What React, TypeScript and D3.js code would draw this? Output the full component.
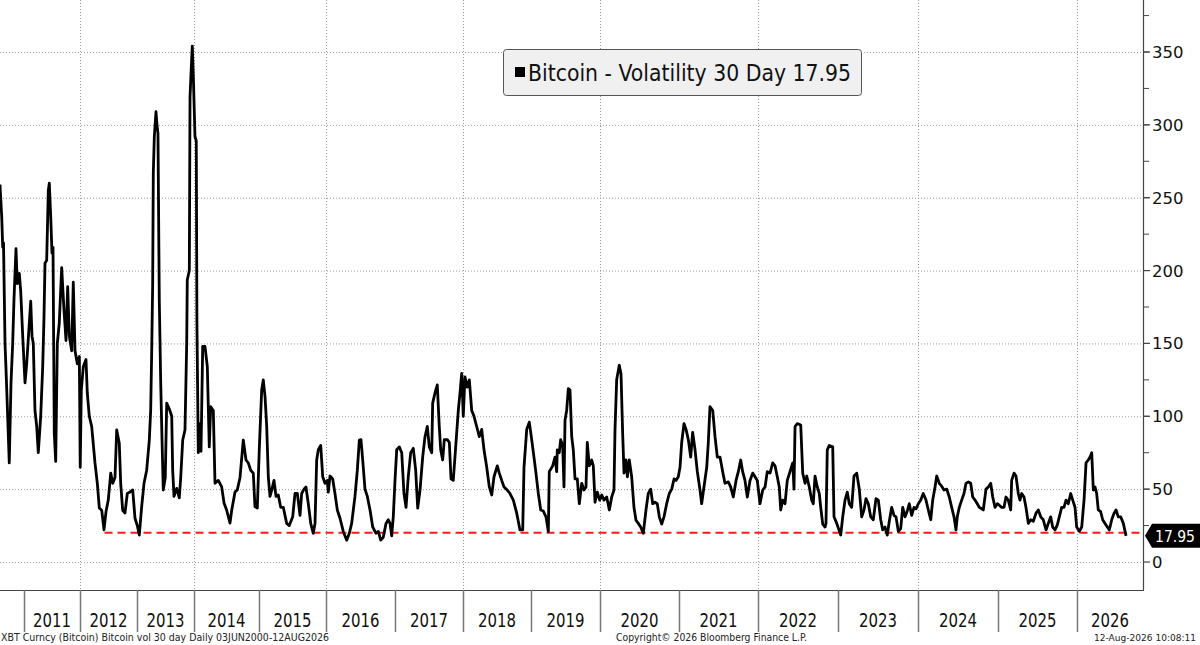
import * as d3 from "d3";

// year bands shown on the bottom axis
const years = [2011, 2012, 2013, 2014, 2015, 2016, 2017, 2018, 2019, 2020, 2021, 2022, 2023, 2024, 2025, 2026];
const yTicks = [0, 50, 100, 150, 200, 250, 300, 350];
const seriesName = "Bitcoin - Volatility 30 Day";
const lastValue = 17.95;
const floorLevel = 20;
const floorStart = 2012.43;
const footerLeft = "XBT Curncy (Bitcoin) Bitcoin vol 30 day Daily 03JUN2000-12AUG2026";
const footerMid = "Copyright\u00a9 2026 Bloomberg Finance L.P.";
const footerRight = "12-Aug-2026 10:08:11";

// [decimal year, 30 day volatility]
const bitcoinVol: [number, number][] = [
  [2010.571, 259], [2010.602, 237], [2010.62, 216], [2010.634, 219], [2010.661, 150], [2010.679, 132],
  [2010.702, 107], [2010.737, 68], [2010.768, 123], [2010.798, 150], [2010.821, 180], [2010.857, 215],
  [2010.88, 191], [2010.916, 198], [2010.941, 186], [2010.977, 155],
  [2011.018, 123], [2011.048, 136], [2011.095, 164], [2011.12, 179], [2011.143, 155], [2011.166, 150],
  [2011.196, 104], [2011.227, 93], [2011.255, 75], [2011.298, 100], [2011.334, 134], [2011.357, 168],
  [2011.375, 205], [2011.405, 207], [2011.434, 255], [2011.452, 260], [2011.477, 237], [2011.5, 212],
  [2011.518, 216], [2011.541, 88], [2011.566, 69], [2011.595, 150], [2011.63, 164], [2011.673, 202],
  [2011.714, 173], [2011.75, 152], [2011.78, 189], [2011.809, 155], [2011.852, 145], [2011.88, 192],
  [2011.911, 145], [2011.952, 136], [2011.988, 141],
  [2012.004, 65], [2012.023, 118], [2012.058, 134], [2012.105, 139], [2012.128, 116], [2012.163, 100],
  [2012.205, 93], [2012.263, 68], [2012.304, 54], [2012.339, 37], [2012.381, 35.5], [2012.421, 22],
  [2012.456, 34.5], [2012.496, 42.5], [2012.539, 61], [2012.574, 54], [2012.614, 58], [2012.644, 90.6],
  [2012.689, 81.5], [2012.714, 54], [2012.749, 35.5], [2012.789, 33.6], [2012.83, 47], [2012.877, 48],
  [2012.925, 49.5], [2012.965, 30],
  [2013.005, 25], [2013.04, 18.5], [2013.082, 38], [2013.123, 54], [2013.17, 63], [2013.216, 83.7],
  [2013.24, 104], [2013.258, 145], [2013.275, 191], [2013.286, 267], [2013.304, 292], [2013.333, 309],
  [2013.351, 300], [2013.368, 294], [2013.391, 180], [2013.416, 123], [2013.439, 83.7], [2013.461, 49.4],
  [2013.496, 58], [2013.521, 109], [2013.567, 105], [2013.609, 100], [2013.626, 63], [2013.649, 45],
  [2013.696, 50.5], [2013.742, 44], [2013.767, 58], [2013.802, 83.7], [2013.842, 90.6], [2013.872, 150],
  [2013.882, 193.5], [2013.918, 200], [2013.93, 319], [2013.953, 340], [2013.97, 354], [2013.991, 330],
  [2014.015, 292], [2014.035, 289], [2014.045, 164], [2014.066, 75], [2014.092, 95], [2014.108, 76],
  [2014.134, 148], [2014.169, 148], [2014.205, 134], [2014.235, 79], [2014.257, 106.6], [2014.297, 104],
  [2014.323, 54], [2014.374, 56], [2014.426, 51.5], [2014.462, 40.5], [2014.503, 35.5], [2014.554, 26.7],
  [2014.58, 35.5], [2014.631, 48], [2014.666, 49.5], [2014.708, 58], [2014.758, 83.7], [2014.8, 70],
  [2014.835, 68], [2014.872, 63], [2014.912, 61], [2014.938, 38], [2014.974, 37],
  [2015.004, 77], [2015.04, 118], [2015.064, 125], [2015.09, 113.5], [2015.115, 93], [2015.139, 58.5],
  [2015.164, 45], [2015.19, 49.4], [2015.224, 56], [2015.254, 45], [2015.288, 46], [2015.324, 37.5],
  [2015.363, 37.5], [2015.413, 26.5], [2015.452, 25], [2015.503, 31], [2015.537, 47], [2015.572, 47],
  [2015.612, 32], [2015.637, 47], [2015.672, 50], [2015.701, 51.5], [2015.736, 40], [2015.772, 26.5],
  [2015.81, 19.7], [2015.836, 26.5], [2015.861, 70], [2015.885, 77], [2015.921, 80], [2015.951, 58.5],
  [2015.985, 54],
  [2016.019, 56], [2016.033, 48], [2016.058, 59], [2016.097, 57], [2016.13, 47], [2016.164, 35.7],
  [2016.203, 30], [2016.251, 20.8], [2016.3, 15], [2016.338, 19.7], [2016.372, 26.5], [2016.42, 45],
  [2016.454, 63], [2016.483, 83.7], [2016.507, 84], [2016.532, 70], [2016.565, 50], [2016.599, 45],
  [2016.638, 35.7], [2016.677, 24], [2016.725, 19.7], [2016.758, 21], [2016.793, 15], [2016.83, 17],
  [2016.87, 26.5], [2016.903, 29], [2016.928, 26.5], [2016.952, 18], [2016.975, 31],
  [2017.0, 56], [2017.025, 77], [2017.063, 79], [2017.099, 75], [2017.132, 47], [2017.162, 37.5],
  [2017.196, 59], [2017.231, 75], [2017.269, 78], [2017.304, 63], [2017.334, 37], [2017.368, 49.4],
  [2017.407, 72], [2017.441, 86], [2017.475, 93], [2017.504, 79], [2017.54, 75], [2017.554, 109],
  [2017.588, 116], [2017.622, 121.5], [2017.651, 93], [2017.672, 77], [2017.701, 70], [2017.725, 84],
  [2017.769, 84], [2017.799, 82], [2017.824, 57], [2017.857, 56], [2017.897, 82], [2017.931, 104],
  [2017.956, 116], [2017.981, 129.5],
  [2018.004, 100], [2018.029, 127], [2018.063, 120], [2018.093, 125], [2018.128, 104], [2018.162, 100],
  [2018.201, 93], [2018.24, 86], [2018.275, 91], [2018.309, 77], [2018.349, 65], [2018.387, 51.5],
  [2018.422, 46], [2018.456, 58.5], [2018.504, 66], [2018.534, 61], [2018.569, 56], [2018.603, 51.5],
  [2018.651, 49.4], [2018.691, 47], [2018.74, 42.5], [2018.79, 33.5], [2018.838, 22], [2018.878, 22],
  [2018.897, 65], [2018.937, 91], [2018.975, 96],
  [2019.01, 84], [2019.043, 72], [2019.072, 61], [2019.106, 47], [2019.141, 35.7], [2019.178, 35],
  [2019.217, 31], [2019.251, 21], [2019.265, 62], [2019.314, 66], [2019.348, 72], [2019.372, 62],
  [2019.381, 77], [2019.41, 75], [2019.43, 84], [2019.459, 80], [2019.478, 51.5], [2019.493, 97.5],
  [2019.517, 104], [2019.541, 119], [2019.565, 118], [2019.59, 86], [2019.613, 77], [2019.638, 57],
  [2019.671, 57], [2019.7, 40], [2019.735, 54], [2019.768, 49.4], [2019.797, 51.5], [2019.816, 82],
  [2019.845, 66], [2019.88, 70], [2019.903, 66], [2019.928, 41], [2019.961, 48], [2019.996, 42.5],
  [2020.022, 46], [2020.051, 42.5], [2020.085, 44.6], [2020.118, 35.7], [2020.148, 44.6], [2020.177, 49.4],
  [2020.19, 91], [2020.211, 125], [2020.244, 135], [2020.266, 129], [2020.287, 88], [2020.304, 61],
  [2020.329, 70], [2020.346, 58.5], [2020.371, 70], [2020.401, 58.5], [2020.43, 37.5], [2020.456, 28.5],
  [2020.485, 26.5], [2020.515, 24], [2020.548, 19.7], [2020.582, 35.7], [2020.611, 47], [2020.642, 50],
  [2020.667, 40], [2020.696, 41], [2020.725, 40], [2020.751, 31], [2020.781, 26], [2020.81, 31],
  [2020.844, 40], [2020.877, 47], [2020.908, 50], [2020.937, 57], [2020.962, 56], [2020.991, 58.5],
  [2021.013, 65], [2021.034, 82], [2021.063, 95], [2021.089, 91], [2021.118, 84], [2021.148, 72],
  [2021.173, 89], [2021.203, 77], [2021.232, 62], [2021.266, 49.4], [2021.287, 40], [2021.316, 51.5],
  [2021.351, 65], [2021.371, 82], [2021.392, 106.6], [2021.427, 104], [2021.456, 86], [2021.485, 72],
  [2021.519, 72], [2021.553, 62], [2021.582, 54], [2021.624, 55], [2021.654, 51.5], [2021.687, 44.6],
  [2021.722, 56], [2021.751, 62], [2021.781, 70], [2021.806, 62], [2021.835, 56], [2021.865, 44.6],
  [2021.899, 56], [2021.933, 61], [2021.962, 58.5], [2021.991, 56],
  [2022.025, 40], [2022.059, 49.4], [2022.088, 51.5], [2022.116, 62], [2022.15, 61], [2022.184, 68],
  [2022.213, 66], [2022.241, 58.5], [2022.266, 51.5], [2022.284, 35.7], [2022.309, 42.5], [2022.338, 40],
  [2022.366, 56], [2022.4, 62], [2022.434, 68], [2022.45, 50], [2022.463, 93], [2022.491, 95],
  [2022.534, 94], [2022.559, 61], [2022.588, 54], [2022.609, 59], [2022.641, 51.5], [2022.671, 42.5],
  [2022.691, 40], [2022.713, 59], [2022.741, 51.5], [2022.766, 47], [2022.784, 37.5], [2022.809, 26],
  [2022.838, 24], [2022.85, 26.5], [2022.866, 77], [2022.891, 80], [2022.934, 79], [2022.95, 31],
  [2022.984, 26.5],
  [2023.034, 18.5], [2023.059, 31], [2023.088, 42.5], [2023.116, 48], [2023.141, 40], [2023.171, 37.5],
  [2023.2, 59], [2023.234, 61], [2023.266, 50], [2023.296, 31], [2023.325, 35.7], [2023.35, 43.5],
  [2023.379, 40], [2023.409, 31], [2023.441, 29], [2023.475, 43.5], [2023.504, 42.5], [2023.534, 29],
  [2023.559, 22], [2023.588, 24], [2023.616, 18.5], [2023.641, 28], [2023.671, 37.5], [2023.7, 32],
  [2023.725, 31], [2023.754, 21], [2023.784, 23], [2023.809, 37.5], [2023.838, 31], [2023.866, 35],
  [2023.891, 40], [2023.921, 32], [2023.95, 37.5], [2023.975, 36.5],
  [2024.004, 40], [2024.034, 42.5], [2024.066, 47], [2024.1, 42.5], [2024.129, 35.7], [2024.159, 29],
  [2024.184, 42.5], [2024.213, 51.5], [2024.234, 59], [2024.266, 54], [2024.296, 52], [2024.325, 49.4],
  [2024.359, 50], [2024.391, 44.6], [2024.421, 37.5], [2024.45, 31], [2024.475, 22], [2024.491, 31],
  [2024.516, 37.5], [2024.546, 42.5], [2024.575, 47], [2024.6, 54], [2024.629, 55], [2024.659, 54],
  [2024.684, 44.6], [2024.713, 42.5], [2024.741, 40], [2024.766, 37.5], [2024.796, 36.5], [2024.816, 35.7],
  [2024.85, 50], [2024.879, 51.5], [2024.909, 54], [2024.934, 44.6], [2024.963, 37.5], [2024.991, 40],
  [2025.016, 39], [2025.047, 37.5], [2025.076, 37.5], [2025.101, 44.6], [2025.13, 42.5], [2025.161, 35.7],
  [2025.173, 56], [2025.203, 61], [2025.228, 59], [2025.257, 47], [2025.278, 42.5], [2025.3, 47],
  [2025.329, 44.6], [2025.354, 37.5], [2025.384, 26.5], [2025.414, 29], [2025.447, 28], [2025.481, 33.5],
  [2025.51, 35.7], [2025.541, 31], [2025.573, 29], [2025.608, 22], [2025.637, 26.5], [2025.667, 31],
  [2025.692, 24], [2025.722, 22], [2025.751, 25.5], [2025.776, 31], [2025.806, 37.5], [2025.835, 37.5],
  [2025.861, 42.5], [2025.89, 40], [2025.92, 47], [2025.946, 42.5], [2025.975, 37.5], [2025.996, 24],
  [2026.029, 21], [2026.059, 24], [2026.088, 42.5], [2026.113, 68], [2026.141, 70], [2026.163, 72],
  [2026.184, 75], [2026.204, 49.4], [2026.225, 51.5], [2026.246, 47], [2026.266, 35.7], [2026.296, 34.5],
  [2026.321, 29], [2026.35, 26.5], [2026.379, 24], [2026.404, 22], [2026.434, 29], [2026.463, 33.5],
  [2026.488, 35.7], [2026.516, 31], [2026.546, 31], [2026.579, 26.5], [2026.613, 17.95],
];

const W = 1200;
const H = 645;
const plotRight = 1143;
const plotBottom = 590;
const font = "Tahoma, 'DejaVu Sans', sans-serif";

// the date axis is spaced by observation count, so each year gets its own width
const yearEdges = d3.range(2010, 2028);
const yearEdgesPx = [-32, 24, 80, 137, 194, 259, 326, 395, 463, 531, 600, 679, 758, 838, 918, 998, 1077, 1157];

const App = () => {
  const x = d3.scaleLinear().domain(yearEdges).range(yearEdgesPx);
  const y = d3.scaleLinear().domain([0, 350]).range([562, 52]);

  const line = d3
    .line<[number, number]>()
    .x((d) => x(d[0]))
    .y((d) => y(d[1]));

  const minorTicks = d3.range(25, 400, 25).filter((v) => y(v) >= 0);
  const gridYears = years.filter((yr) => yr % 2 === 0);
  const badgeY = y(lastValue);

  return (
    <svg
      width={W}
      height={H}
      style={{ position: "absolute", left: 0, top: 0, background: "#fff" }}
      fontFamily={font}
    >
      <defs>
        <clipPath id="plot">
          <rect x={0} y={0} width={plotRight} height={plotBottom} />
        </clipPath>
      </defs>

      {/* grid */}
      <g stroke="#9a9a9a" strokeWidth={1} strokeDasharray="1 2">
        {yTicks.map((t) => (
          <line key={t} x1={0} x2={plotRight} y1={y(t) + 0.5} y2={y(t) + 0.5} />
        ))}
        {gridYears.map((yr) => (
          <line key={yr} x1={x(yr) + 0.5} x2={x(yr) + 0.5} y1={0} y2={plotBottom} />
        ))}
      </g>

      {/* floor line */}
      <line
        x1={x(floorStart)}
        x2={plotRight}
        y1={y(floorLevel)}
        y2={y(floorLevel)}
        stroke="#ff1a1a"
        strokeWidth={2}
        strokeDasharray="8 5"
      />

      <path
        d={line(bitcoinVol) ?? ""}
        fill="none"
        stroke="#000"
        strokeWidth={2.8}
        strokeLinejoin="round"
        clipPath="url(#plot)"
      />

      {/* right axis */}
      <line x1={plotRight + 0.5} x2={plotRight + 0.5} y1={0} y2={plotBottom} stroke="#444" strokeWidth={1.2} />
      {minorTicks.map((v) => (
        <line key={v} x1={plotRight} x2={plotRight + 6} y1={y(v)} y2={y(v)} stroke="#444" strokeWidth={1} />
      ))}
      {yTicks.map((t) => (
        <g key={t}>
          <line x1={plotRight} x2={plotRight + 7} y1={y(t)} y2={y(t)} stroke="#444" strokeWidth={1.2} />
          <text x={plotRight + 9} y={y(t)} dy="0.36em" fontSize={16.5} fill="#111">
            {t}
          </text>
        </g>
      ))}

      {/* last value badge */}
      <polygon
        points={`${plotRight + 2},${badgeY} ${plotRight + 9},${badgeY - 12} ${W},${badgeY - 12} ${W},${badgeY + 12} ${plotRight + 9},${badgeY + 12}`}
        fill="#000"
      />
      <text
        x={plotRight + 12}
        y={badgeY}
        dy="0.36em"
        fontSize={16}
        fill="#fff"
        textLength={40}
        lengthAdjust="spacingAndGlyphs"
      >
        {lastValue.toFixed(2)}
      </text>

      {/* bottom axis */}
      <line x1={0} x2={plotRight + 1} y1={plotBottom + 0.5} y2={plotBottom + 0.5} stroke="#444" strokeWidth={1.2} />
      {years.map((yr) => {
        const left = x(yr);
        const right = Math.min(x(yr + 1), plotRight);
        return (
          <g key={yr}>
            <line x1={left + 0.5} x2={left + 0.5} y1={plotBottom} y2={632} stroke="#777" strokeWidth={1.5} />
            <text
              x={(left + right) / 2}
              y={627}
              textAnchor="middle"
              fontSize={19}
              fill="#111"
              textLength={38}
              lengthAdjust="spacingAndGlyphs"
            >
              {yr}
            </text>
          </g>
        );
      })}

      {/* legend */}
      <rect x={503.5} y={49.5} width={358} height={46} rx={3} fill="#f0f0f0" stroke="#555" strokeWidth={1} />
      <rect x={515} y={67} width={10} height={10} fill="#000" />
      <text x={528} y={81} fontSize={23} fill="#111" textLength={323} lengthAdjust="spacingAndGlyphs">
        {`${seriesName} ${lastValue.toFixed(2)}`}
      </text>

      {/* footer */}
      <text x={1} y={641} fontSize={10.5} fill="#222" textLength={328} lengthAdjust="spacingAndGlyphs">
        {footerLeft}
      </text>
      <text x={616} y={641} fontSize={10.5} fill="#222" textLength={191} lengthAdjust="spacingAndGlyphs">
        {footerMid}
      </text>
      <text x={1094} y={641} fontSize={9.2} fill="#222" textLength={102} lengthAdjust="spacingAndGlyphs">
        {footerRight}
      </text>
    </svg>
  );
};

export default App;
